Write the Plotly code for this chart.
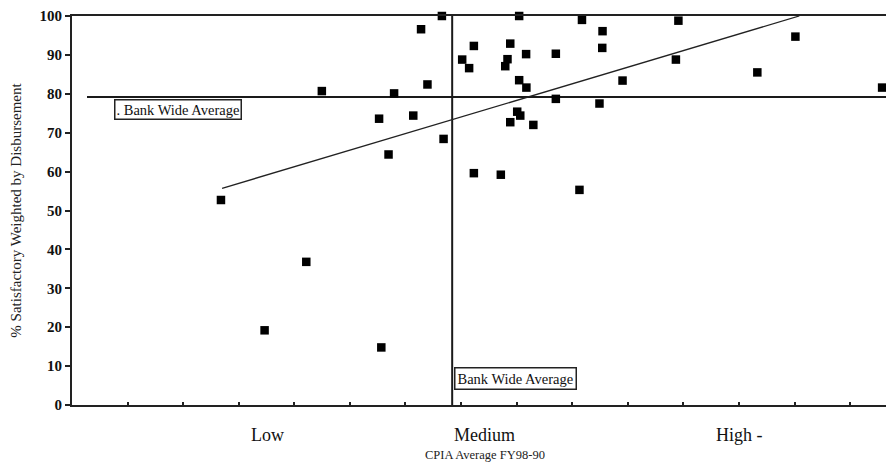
import plotly.graph_objects as go

# CPIA average (x) and % satisfactory weighted by disbursement (y)
cpia = [2.536, 2.693, 2.843, 2.899, 3.113, 3.105, 3.139, 3.159, 3.228, 3.256,
        3.279, 3.331, 3.337, 3.404, 3.429, 3.446, 3.446, 3.543, 3.577, 3.567,
        3.559, 3.609, 3.634, 3.609, 3.635, 3.577, 3.602, 3.613, 3.660, 3.741,
        3.741, 3.826, 3.835, 3.909, 3.908, 3.898, 3.981, 4.182, 4.173, 4.466,
        4.603, 4.915]
satisfactory = [52.7, 19.2, 36.8, 80.7, 14.8, 73.6, 64.4, 80.1, 74.4, 96.6,
                82.4, 100.0, 68.4, 88.8, 86.6, 92.3, 59.6, 59.2, 92.9, 88.9,
                87.1, 100.0, 90.2, 83.5, 81.6, 72.7, 75.4, 74.4, 72.0, 90.3,
                78.7, 55.3, 99.0, 96.1, 91.8, 77.5, 83.4, 98.8, 88.8, 85.5,
                94.7, 81.6]

trend_x = [2.540, 4.617]
trend_y = [55.7, 100.0]

bank_avg_y = 79.2
bank_avg_x = 3.368
hline_start = 2.054

category_labels = ["Low", "Medium", "High -"]
category_pos = [2.703, 3.486, 4.309]

x_range = [2.0, 4.929]
serif = "Liberation Serif, Times New Roman, DejaVu Serif, serif"

fig = go.Figure()

fig.add_trace(go.Scatter(
    x=[hline_start, x_range[1]], y=[bank_avg_y, bank_avg_y], mode="lines",
    line=dict(color="#1a1a1a", width=2), showlegend=False, hoverinfo="skip"))
fig.add_trace(go.Scatter(
    x=[bank_avg_x, bank_avg_x], y=[0, 101], mode="lines",
    line=dict(color="#1a1a1a", width=2), showlegend=False, hoverinfo="skip",
    cliponaxis=False))
fig.add_trace(go.Scatter(
    x=trend_x, y=trend_y, mode="lines",
    line=dict(color="#222222", width=1.3), showlegend=False, hoverinfo="skip"))
fig.add_trace(go.Scatter(
    x=cpia, y=satisfactory, mode="markers",
    marker=dict(symbol="square", size=8.5, color="black"),
    showlegend=False, cliponaxis=False))

# label boxes
fig.add_annotation(x=2.151, y=bank_avg_y - 0.5, xref="x", yref="y",
                   xanchor="left", yanchor="top", text=". Bank Wide Average",
                   showarrow=False, font=dict(family=serif, size=14.5, color="#111"),
                   bordercolor="#222", borderwidth=1.5, borderpad=1, bgcolor="white")
fig.add_annotation(x=bank_avg_x + 0.008, y=3.8, xref="x", yref="y",
                   xanchor="left", yanchor="bottom", text="Bank Wide Average",
                   showarrow=False, font=dict(family=serif, size=14.5, color="#111"),
                   bordercolor="#222", borderwidth=1.5, borderpad=2, bgcolor="white")

for lab, pos in zip(category_labels, category_pos):
    fig.add_annotation(x=pos, y=-0.045, xref="x", yref="paper",
                       xanchor="center" if lab != "High -" else "left", yanchor="top",
                       text=lab, showarrow=False,
                       font=dict(family=serif, size=18, color="#111"))

fig.add_annotation(x=3.486, y=-0.105, xref="x", yref="paper", xanchor="center",
                   yanchor="top", text="CPIA Average FY98-90", showarrow=False,
                   font=dict(family=serif, size=12.5, color="#222"))

fig.update_layout(
    width=886, height=464,
    margin=dict(l=72, r=0, t=16, b=59),
    plot_bgcolor="white", paper_bgcolor="white",
    xaxis=dict(range=x_range, showgrid=False, zeroline=False,
               showline=True, linecolor="#222", linewidth=2, mirror=True,
               ticks="inside", ticklen=3, tickwidth=2, tickcolor="#222",
               tick0=2.0, dtick=0.2, showticklabels=False),
    yaxis=dict(range=[0, 100], showgrid=False, zeroline=False,
               showline=True, linecolor="#222", linewidth=2,
               ticks="outside", ticklen=5, tickwidth=2, tickcolor="#222",
               tick0=0, dtick=10,
               tickfont=dict(family=serif, size=15, color="#111", weight="bold"),
               title=dict(text="% Satisfactory Weighted by Disbursement",
                          font=dict(family=serif, size=15, color="#222"),
                          standoff=14)),
)

fig.write_html("out.html", config={"displayModeBar": False},
               post_script="document.body.style.margin='0';")
